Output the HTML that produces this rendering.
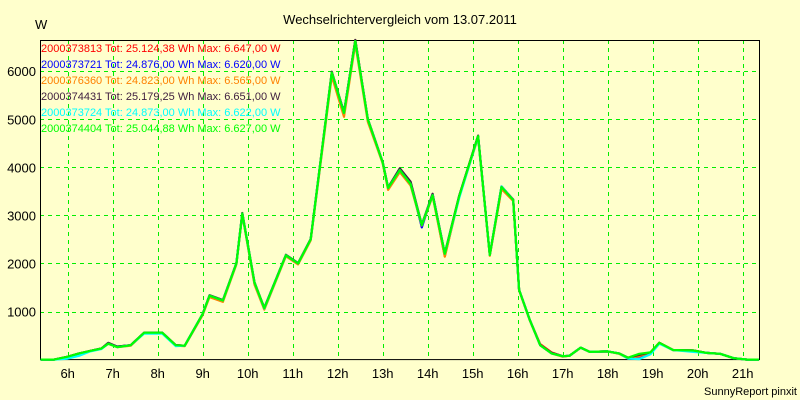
<!DOCTYPE html>
<html><head><meta charset="utf-8"><style>
html,body{margin:0;padding:0;background:#ffffcc;}
svg{display:block;font-family:"Liberation Sans",sans-serif;}
</style></head><body>
<svg id="chart" width="800" height="400"></svg>
<script>
const hours=[5.4,5.7,6.0,6.25,6.5,6.75,6.9,7.1,7.4,7.7,8.1,8.4,8.6,9.0,9.15,9.45,9.75,9.88,10.15,10.37,10.85,11.12,11.4,11.87,12.14,12.39,12.67,13.0,13.12,13.38,13.62,13.87,14.11,14.38,14.7,15.12,15.38,15.64,15.9,16.03,16.27,16.5,16.75,17.0,17.15,17.4,17.6,18.0,18.25,18.45,18.7,18.95,19.15,19.45,19.9,20.2,20.5,20.8,21.1,21.36];
const valsRed   =[0,0,60,130,180,230,340,270,300,560,560,300,290,950,1330,1230,2000,3045,1600,1050,2170,2000,2500,5980,5130,6647,5000,4100,3570,3940,3650,2800,3420,2150,3400,4650,2175,3560,3320,1450,820,320,150,70,80,250,160,170,130,20,80,150,350,200,190,140,120,30,0,0];
const valsBlue  =[0,0,50,120,180,230,330,270,300,560,560,300,290,950,1330,1230,2000,3030,1580,1080,2170,2000,2500,5950,5150,6620,5000,4100,3570,3960,3680,2750,3440,2200,3400,4640,2175,3600,3320,1450,820,300,130,70,80,250,160,170,130,40,60,140,340,200,190,140,120,30,0,0];
const valsOrange=[0,0,50,120,180,230,330,260,290,550,550,290,280,930,1300,1200,1980,3020,1560,1040,2150,1980,2480,5900,5050,6565,4950,4080,3530,3900,3620,2790,3400,2140,3380,4620,2160,3550,3300,1440,810,300,130,60,80,250,160,170,120,30,70,150,350,200,190,140,120,30,0,0];
const valsDark  =[0,0,60,130,180,230,350,270,300,560,560,300,290,950,1340,1240,2010,3050,1610,1070,2180,2010,2510,5990,5140,6651,5010,4110,3580,3980,3700,2810,3450,2210,3410,4660,2180,3600,3330,1450,820,300,140,70,80,250,160,170,130,40,100,150,350,200,190,140,120,30,0,0];
const valsCyan  =[0,0,20,80,170,220,330,260,300,540,540,280,290,950,1330,1230,2000,3040,1600,1060,2170,2000,2500,5970,5130,6622,5000,4100,3570,3940,3650,2800,3420,2200,3360,4640,2175,3600,3320,1450,820,300,130,70,80,250,160,170,130,20,10,110,330,200,160,140,120,30,0,0];
const valsGreen =[0,0,60,130,180,230,330,260,300,560,560,300,290,950,1330,1230,2000,3040,1600,1070,2170,2000,2500,5970,5130,6627,5000,4100,3570,3940,3650,2800,3420,2200,3400,4650,2175,3590,3320,1450,820,300,130,70,80,250,160,170,130,40,120,150,350,200,190,140,120,30,0,0];
const seriesColors=["#ff0000","#0000ff","#ff8000","#402040","#00ffff","#00ff00"];
const legendLabels=["2000373813 Tot: 25.124,38 Wh Max: 6.647,00 W","2000373721 Tot: 24.876,00 Wh Max: 6.620,00 W","2000376360 Tot: 24.823,00 Wh Max: 6.565,00 W","2000374431 Tot: 25.179,25 Wh Max: 6.651,00 W","2000373724 Tot: 24.873,00 Wh Max: 6.622,00 W","2000374404 Tot: 25.044,88 Wh Max: 6.627,00 W"];
const yTicks=[1000,2000,3000,4000,5000,6000];
const xTicks=[6,7,8,9,10,11,12,13,14,15,16,17,18,19,20,21];

const NS="http://www.w3.org/2000/svg";
const svg=document.getElementById('chart');
const L=40,R=759,T=40,B=359.6;
const xs=h=>67.7+(h-6)*45;
const ys=v=>B-v*0.04807;
function mk(tag,attrs,parent){const e=document.createElementNS(NS,tag);for(const k in attrs)e.setAttribute(k,attrs[k]);(parent||svg).appendChild(e);return e;}

const title=mk('text',{x:400,y:24,'text-anchor':'middle','font-size':13,fill:'#000'});


title.textContent='Wechselrichtervergleich vom 13.07.2011';
const unit=mk('text',{x:35,y:29,'font-size':13,fill:'#000'});


unit.textContent='W';

const grid=mk('g',{stroke:'#00ee00','stroke-width':1,'stroke-dasharray':'4,4'});


yTicks.forEach(v=>{
  const gl=mk('line',{x1:L,x2:R,y1:Math.round(ys(v))+0.5,y2:Math.round(ys(v))+0.5},grid);
  
  
  const t=mk('text',{x:36,y:ys(v)+5,'text-anchor':'end','font-size':13,fill:'#000'});
  
  
  t.textContent=v;
});
xTicks.forEach(h=>{
  const gl=mk('line',{x1:Math.round(xs(h))+0.5,x2:Math.round(xs(h))+0.5,y1:T,y2:B},grid);
  
  
  const t=mk('text',{x:xs(h),y:378,'text-anchor':'middle','font-size':13,fill:'#000'});
  
  
  t.textContent=h+'h';
});

const frame=mk('rect',{x:L+0.5,y:T+0.5,width:R-L,height:B-T-0.5,fill:'none',stroke:'#000','stroke-width':1});



const allVals=[valsRed,valsBlue,valsOrange,valsDark,valsCyan,valsGreen];
allVals.forEach((vals,i)=>{
  const pts=hours.map((h,j)=>xs(h).toFixed(1)+','+ys(vals[j]).toFixed(1)).join(' ');
  const pl=mk('polyline',{points:pts,fill:'none',stroke:seriesColors[i],'stroke-width':2.2,'stroke-linejoin':'round'});
  
  
});

legendLabels.forEach((s,i)=>{
  const t=mk('text',{x:41,y:52+i*16,'font-size':11,fill:seriesColors[i]});
  
  
  t.textContent=s;
});

const foot=mk('text',{x:797,y:395,'text-anchor':'end','font-size':11,fill:'#000'});


foot.textContent='SunnyReport pinxit';
</script>
</body></html>
